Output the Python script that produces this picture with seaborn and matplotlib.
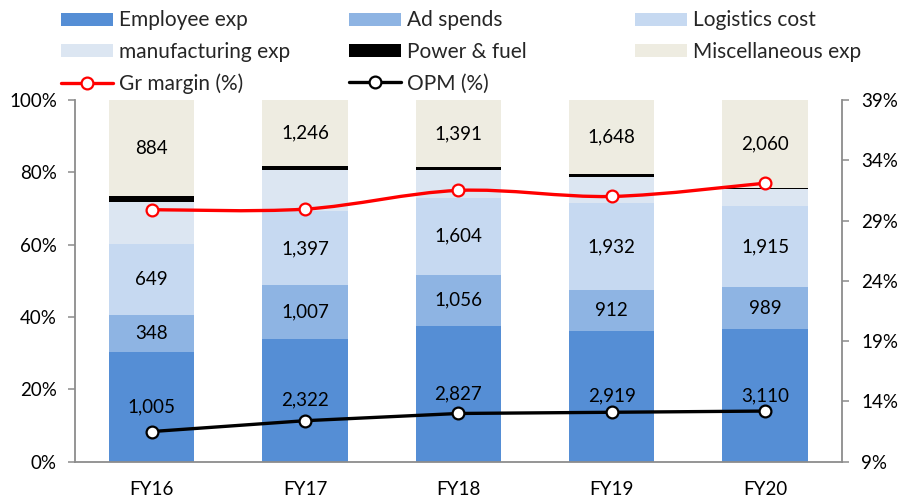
import numpy as np
import pandas as pd
import matplotlib
matplotlib.use("Agg")
import matplotlib.pyplot as plt
import seaborn as sns
from matplotlib.path import Path
from matplotlib.patches import PathPatch, Patch
from matplotlib.lines import Line2D
from matplotlib.ticker import FuncFormatter, FixedLocator

# ---- data (Rs mn) ----
years = ["FY16", "FY17", "FY18", "FY19", "FY20"]
employee_exp = [1005, 2322, 2827, 2919, 3110]
ad_spends = [348, 1007, 1056, 912, 989]
logistics_cost = [649, 1397, 1604, 1932, 1915]
manufacturing_exp = [390, 780, 570, 575, 390]
power_fuel = [50, 80, 70, 75, 33]
misc_exp = [884, 1246, 1391, 1648, 2060]
gr_margin = [29.9, 29.95, 31.5, 31.0, 32.1]
opm = [11.5, 12.4, 13.0, 13.1, 13.2]
left_ticks = [0, 20, 40, 60, 80, 100]
right_ticks = [9, 14, 19, 24, 29, 34, 39]

sns.set_theme(style="white")
plt.rcParams["font.family"] = ["Lato", "DejaVu Sans"]

components = [
    ("Employee exp", employee_exp, "#558ED5", True),
    ("Ad spends", ad_spends, "#8EB4E3", True),
    ("Logistics cost", logistics_cost, "#C6D9F1", True),
    ("manufacturing exp", manufacturing_exp, "#DCE6F2", False),
    ("Power & fuel", power_fuel, "#000000", False),
    ("Miscellaneous exp", misc_exp, "#EEECE1", True),
]

values = pd.DataFrame({name: vals for name, vals, _, _ in components}, index=years)
share = values.div(values.sum(axis=1), axis=0) * 100
cum = share.cumsum(axis=1)

fig = plt.figure(figsize=(9, 4.99), dpi=100)
ax = fig.add_axes([75 / 900, 1 - 461.7 / 499, (841.7 - 75) / 900, (461.7 - 100) / 499])

bar_w = 0.555
# stacked bars: draw cumulative totals from the top layer down
for name, _, color, _ in reversed(components):
    sns.barplot(x=years, y=cum[name].values, color=color, saturation=1,
                width=bar_w, errorbar=None, linewidth=0, ax=ax, zorder=2)

# segment value labels
for name, vals, _, labeled in components:
    if not labeled:
        continue
    for i, y in enumerate(years):
        mid = cum[name].iloc[i] - share[name].iloc[i] / 2
        ax.text(i, mid, f"{vals[i]:,}", ha="center", va="center",
                fontsize=13.5, color="black", zorder=3)

grey = "#8C8C8C"
ax.set_xlim(-0.5, len(years) - 0.5)
ax.set_ylim(0, 100)
ax.yaxis.set_major_locator(FixedLocator(left_ticks))
ax.yaxis.set_major_formatter(FuncFormatter(lambda v, p: f"{v:.0f}%"))
ax.set_xticks(range(len(years)))
ax.set_xticklabels(years)
ax.set_xticks(np.arange(-0.5, len(years)), minor=True)
ax.tick_params(axis="x", which="major", length=0, pad=14, labelsize=13.5, colors="black")
ax.tick_params(axis="x", which="minor", length=5, width=1.1, color=grey, direction="out")
ax.tick_params(axis="y", which="major", left=True, length=5, width=1.1, color=grey,
               direction="out", pad=8, labelsize=13.5, labelcolor="black")
ax.set_xlabel("")
ax.set_ylabel("")
for side in ["top", "right"]:
    ax.spines[side].set_visible(False)
for side in ["left", "bottom"]:
    ax.spines[side].set_color(grey)
    ax.spines[side].set_linewidth(1.3)

# secondary axis for margins
ax2 = ax.twinx()
ax2.set_ylim(right_ticks[0], right_ticks[-1])
ax2.yaxis.set_major_locator(FixedLocator(right_ticks))
ax2.yaxis.set_major_formatter(FuncFormatter(lambda v, p: f"{v:.0f}%"))
ax2.tick_params(axis="y", right=True, length=5, width=1.1, color=grey,
                direction="out", pad=9, labelsize=13.5, labelcolor="black")
for side in ["top", "left", "bottom"]:
    ax2.spines[side].set_visible(False)
ax2.spines["right"].set_color(grey)
ax2.spines["right"].set_linewidth(1.3)
ax2.grid(False)
ax.grid(False)

xs = np.arange(len(years), dtype=float)

# smoothed gross-margin curve (cubic Bezier through the points)
pts = np.column_stack([xs, gr_margin])
verts = [tuple(pts[0])]
codes = [Path.MOVETO]
n = len(pts)
for i in range(n - 1):
    p0 = pts[i - 1] if i > 0 else pts[i]
    p1 = pts[i]
    p2 = pts[i + 1]
    p3 = pts[i + 2] if i + 2 < n else pts[i + 1]
    c1 = p1 + (p2 - p0) / 6
    c2 = p2 - (p3 - p1) / 6
    verts += [tuple(c1), tuple(c2), tuple(p2)]
    codes += [Path.CURVE4] * 3
ax2.add_patch(PathPatch(Path(verts, codes), fill=False, edgecolor="#FF0000",
                        linewidth=2.4, zorder=3))
sns.lineplot(x=xs, y=gr_margin, ax=ax2, linestyle="none", marker="o", markersize=8.5,
             markerfacecolor="white", markeredgecolor="#FF0000", markeredgewidth=1.6,
             zorder=4)

sns.lineplot(x=xs, y=opm, ax=ax2, color="black", linewidth=2.4, marker="o",
             markersize=8.5, markerfacecolor="white", markeredgecolor="black",
             markeredgewidth=1.6, zorder=4)
ax2.set_ylabel("")

# legend, laid out in three fixed columns
patch = {name: Patch(facecolor=c, edgecolor="none") for name, _, c, _ in components}
gr_h = Line2D([], [], color="#FF0000", lw=2.4, marker="o", markersize=8.5,
              markerfacecolor="white", markeredgecolor="#FF0000", markeredgewidth=1.6)
opm_h = Line2D([], [], color="black", lw=2.4, marker="o", markersize=8.5,
               markerfacecolor="white", markeredgecolor="black", markeredgewidth=1.6)
columns = [
    ([patch["Employee exp"], patch["manufacturing exp"], gr_h],
     ["Employee exp", "manufacturing exp", "Gr margin (%)"], 61),
    ([patch["Ad spends"], patch["Power & fuel"], opm_h],
     ["Ad spends", "Power & fuel", "OPM (%)"], 349),
    ([patch["Logistics cost"], patch["Miscellaneous exp"]],
     ["Logistics cost", "Miscellaneous exp"], 635),
]
for handles, labels, x0 in columns:
    fig.legend(handles, labels, loc="upper left", bbox_to_anchor=(x0 / 900, 1 - 10.5 / 499),
               frameon=False, fontsize=15, handlelength=2.5, handleheight=0.6,
               handletextpad=0.3, labelspacing=0.55, borderpad=0, borderaxespad=0)

fig.savefig("out.png", dpi=100)
